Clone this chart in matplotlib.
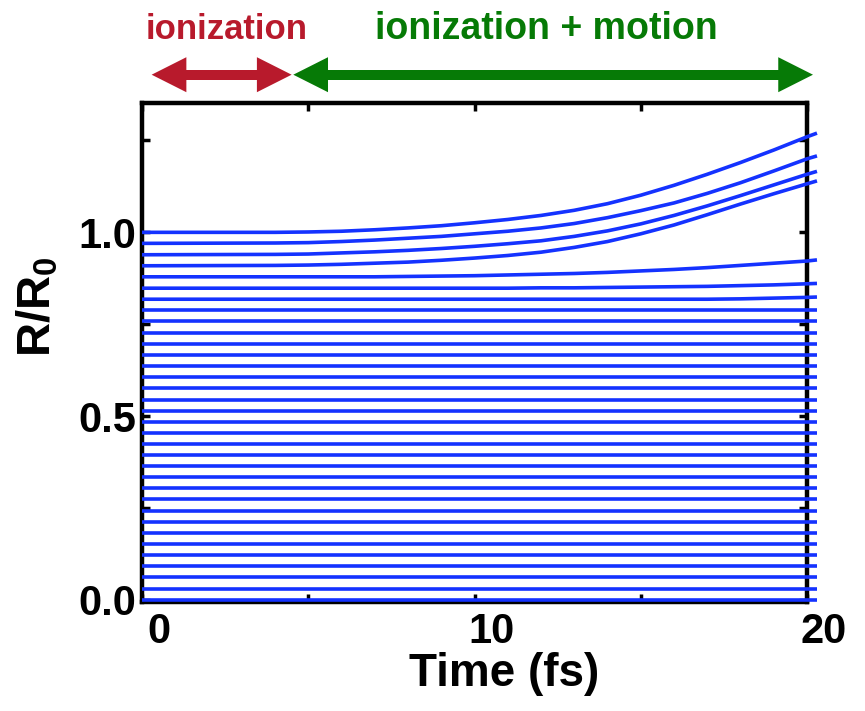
import matplotlib
matplotlib.use("Agg")
import matplotlib.pyplot as plt
from matplotlib.patches import FancyArrowPatch
from matplotlib.transforms import ScaledTranslation

# ---------------- data ----------------
time_fs = [0, 4, 5, 6, 7, 8, 9, 10, 11, 12, 13, 14, 15, 16, 17, 18, 19, 20, 20.3]

# lines that move (R/R0 vs time)
moving_lines = [
    [1.000, 1.000, 1.001, 1.003, 1.007, 1.012, 1.018, 1.026, 1.035, 1.046,
     1.060, 1.078, 1.101, 1.128, 1.158, 1.190, 1.224, 1.260, 1.270],
    [0.970, 0.971, 0.972, 0.975, 0.979, 0.984, 0.989, 0.996, 1.003, 1.012,
     1.024, 1.040, 1.059, 1.080, 1.106, 1.135, 1.167, 1.200, 1.208],
    [0.939, 0.940, 0.941, 0.944, 0.947, 0.951, 0.956, 0.962, 0.969, 0.977,
     0.989, 1.004, 1.023, 1.046, 1.072, 1.100, 1.129, 1.158, 1.166],
    [0.909, 0.910, 0.911, 0.913, 0.916, 0.919, 0.924, 0.930, 0.937, 0.946,
     0.959, 0.975, 0.996, 1.020, 1.048, 1.077, 1.105, 1.132, 1.140],
    [0.879, 0.879, 0.879, 0.879, 0.879, 0.880, 0.881, 0.882, 0.884, 0.886,
     0.888, 0.891, 0.895, 0.899, 0.904, 0.910, 0.916, 0.922, 0.925],
    [0.848, 0.848, 0.848, 0.848, 0.848, 0.848, 0.848, 0.848, 0.848, 0.849,
     0.849, 0.850, 0.851, 0.852, 0.853, 0.855, 0.857, 0.860, 0.861],
    [0.818, 0.818, 0.818, 0.818, 0.818, 0.818, 0.818, 0.818, 0.818, 0.818,
     0.818, 0.818, 0.818, 0.818, 0.818, 0.819, 0.821, 0.823, 0.824],
]

# lines that stay flat
flat_levels = [0.000, 0.030, 0.061, 0.091, 0.121, 0.152, 0.182, 0.212, 0.242,
               0.273, 0.303, 0.333, 0.364, 0.394, 0.424, 0.455, 0.485, 0.515,
               0.545, 0.576, 0.606, 0.636, 0.667, 0.697, 0.727, 0.758, 0.788]

x_ticks = [0, 10, 20]
x_minor = [5, 15]
y_ticks = [0.0, 0.5, 1.0]
y_tick_labels = ["0.0", "0.5", "1.0"]
y_minor = [0.25, 0.75, 1.25]

phase_labels = ["ionization", "ionization + motion"]
phase_start = [0.29, 4.55]
phase_end = [4.50, 20.18]
phase_text_x = [2.56, 12.15]
phase_text_size = [25, 27]
phase_colors = ["#B81A2C", "#067A06"]

# ---------------- style ----------------
plt.rcParams['font.family'] = ['Liberation Sans', 'DejaVu Sans']
plt.rcParams['font.weight'] = 'bold'
plt.rcParams['mathtext.fontset'] = 'custom'
plt.rcParams['mathtext.rm'] = 'Liberation Sans:bold'
plt.rcParams['mathtext.bf'] = 'Liberation Sans:bold'
plt.rcParams['mathtext.it'] = 'Liberation Sans:bold'

W, H = 865, 711
fig = plt.figure(figsize=(W / 100, H / 100), dpi=100)
ax = fig.add_axes([142 / W, 1 - 602 / H, 665 / W, 499 / H])

blue = "#1432FF"
lw = 2.6
for lvl in flat_levels:
    ax.plot([time_fs[0], time_fs[-1]], [lvl, lvl], color=blue, lw=lw,
            clip_on=False, zorder=3, solid_capstyle='butt')
for vals in moving_lines:
    ax.plot(time_fs, vals, color=blue, lw=lw, clip_on=False, zorder=3,
            solid_capstyle='butt', solid_joinstyle='round')

ax.set_xlim(0, 20)
ax.set_ylim(-0.006, 1.352)

for sp in ax.spines.values():
    sp.set_linewidth(3.2)

ax.set_xticks(x_ticks)
ax.set_xticks(x_minor, minor=True)
ax.set_yticks(y_ticks)
ax.set_yticklabels(y_tick_labels)
ax.set_yticks(y_minor, minor=True)
ax.tick_params(which='both', direction='in', top=True, right=True,
               length=6, width=2.5, labelsize=30)
ax.tick_params(axis='x', which='major', pad=7)
ax.tick_params(axis='y', which='major', pad=4)

for lbl in ax.get_xticklabels():
    lbl.set_transform(lbl.get_transform() +
                      ScaledTranslation(17 / 100, 0, fig.dpi_scale_trans))

ax.set_xlabel("Time (fs)", fontsize=33, fontweight='bold')
ax.xaxis.set_label_coords((504 - 142) / 665, (602 - 652) / 499)
ax.set_ylabel("R/R$_\\mathbf{0}$", fontsize=34, fontweight='bold')
ax.yaxis.set_label_coords((61 - 142) / 665, (602 - 307) / 499)

# phase arrows and labels
for lab, s, e, tx, fs, c in zip(phase_labels, phase_start, phase_end,
                                phase_text_x, phase_text_size, phase_colors):
    arr = FancyArrowPatch((s, 1.429), (e, 1.429),
                          arrowstyle='<|-|>,head_length=25,head_width=12.6',
                          mutation_scale=1, linewidth=0,
                          color=c, shrinkA=0, shrinkB=0,
                          transform=ax.transData, clip_on=False)
    ax.add_patch(arr)
    ax.plot([s + 0.9, e - 0.9], [1.429, 1.429], color=c, lw=7.2,
            clip_on=False, solid_capstyle='butt')
    ax.text(tx, 1.527, lab, color=c, fontsize=fs, fontweight='bold',
            ha='center', va='baseline', clip_on=False)

fig.savefig("out.png", dpi=100)
